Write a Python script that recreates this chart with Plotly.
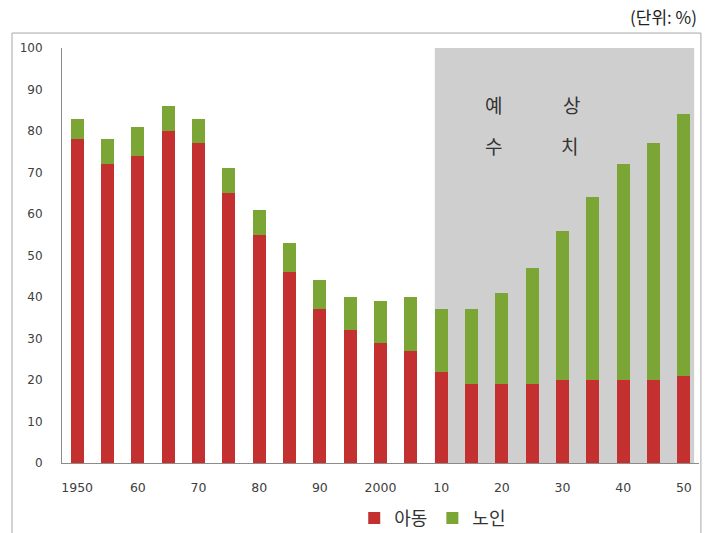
import plotly.graph_objects as go

# Dependency ratios (%) by year: children and elderly
years = [1950, 1955, 1960, 1965, 1970, 1975, 1980, 1985, 1990, 1995, 2000,
         2005, 2010, 2015, 2020, 2025, 2030, 2035, 2040, 2045, 2050]
child = [78, 72, 74, 80, 77, 65, 55, 46, 37, 32, 29,
         27, 22, 19, 19, 19, 20, 20, 20, 20, 21]
total = [83, 78, 81, 86, 83, 71, 61, 53, 44, 40, 39,
         40, 37, 37, 41, 47, 56, 64, 72, 77, 84]
elderly = [t - c for t, c in zip(total, child)]

tick_vals = [1950, 1960, 1970, 1980, 1990, 2000, 2010, 2020, 2030, 2040, 2050]
tick_text = ["1950", "60", "70", "80", "90", "2000", "10", "20", "30", "40", "50"]
forecast_start = 2010

series_names = ["아동", "노인"]
RED = "#c4302f"
GREEN = "#7ba535"
BAR_W = 2.1

KR = "Noto Sans CJK KR"
NUM = "DejaVu Sans"

fig = go.Figure()
fig.add_trace(go.Bar(x=years, y=child, name=series_names[0], width=BAR_W,
                     marker=dict(color=RED, line=dict(width=0))))
fig.add_trace(go.Bar(x=years, y=elderly, name=series_names[1], width=BAR_W,
                     marker=dict(color=GREEN, line=dict(width=0))))

# shaded forecast period
fig.add_shape(type="rect", xref="x", yref="y", layer="below",
              x0=forecast_start - BAR_W / 2, x1=2051.7, y0=0, y1=100,
              fillcolor="#cfcfcf", line=dict(width=0))

# frame around the whole chart
fig.add_shape(type="rect", xref="paper", yref="paper",
              x0=-0.0785, x1=1.003, y0=-0.2, y1=1.036,
              line=dict(color="#a6a6a6", width=1), fillcolor="rgba(0,0,0,0)")

txt = dict(family=KR, size=19, color="#333333")
for label, xp, yp in [("예", 0.694, 0.901), ("상", 0.817, 0.901),
                      ("수", 0.694, 0.803), ("치", 0.813, 0.803)]:
    fig.add_annotation(text=label, xref="paper", yref="paper", x=xp, y=yp,
                       showarrow=False, font=txt)

fig.add_annotation(text="(단위: %)", xref="paper", yref="paper",
                   x=1.0, y=1.075, xanchor="right", yanchor="middle",
                   showarrow=False,
                   font=dict(family=KR, size=17, color="#222222"))

fig.update_layout(
    width=711, height=533,
    margin=dict(l=62, r=12, t=48, b=70, autoexpand=False),
    barmode="stack",
    paper_bgcolor="white", plot_bgcolor="white",
    showlegend=True,
    legend=dict(orientation="h", traceorder="normal",
                x=0.582, y=-0.133, xanchor="center", yanchor="middle",
                font=dict(family=KR, size=18, color="#333333"),
                itemwidth=30, tracegroupgap=0, bgcolor="rgba(0,0,0,0)"),
    xaxis=dict(range=[1947.5, 2052.5], tickmode="array",
               tickvals=tick_vals, ticktext=tick_text,
               showgrid=False, zeroline=False, showline=True,
               linecolor="#8c8c8c", linewidth=1, ticks="",
               ticklabelstandoff=13,
               tickfont=dict(family=NUM, size=12.5, color="#404040")),
    yaxis=dict(range=[0, 100], tickmode="linear", tick0=0, dtick=10,
               showgrid=False, zeroline=False, showline=True,
               linecolor="#8c8c8c", linewidth=1, ticks="",
               ticklabelstandoff=16,
               tickfont=dict(family=NUM, size=12, color="#404040")),
)

fig.write_html("out.html")
